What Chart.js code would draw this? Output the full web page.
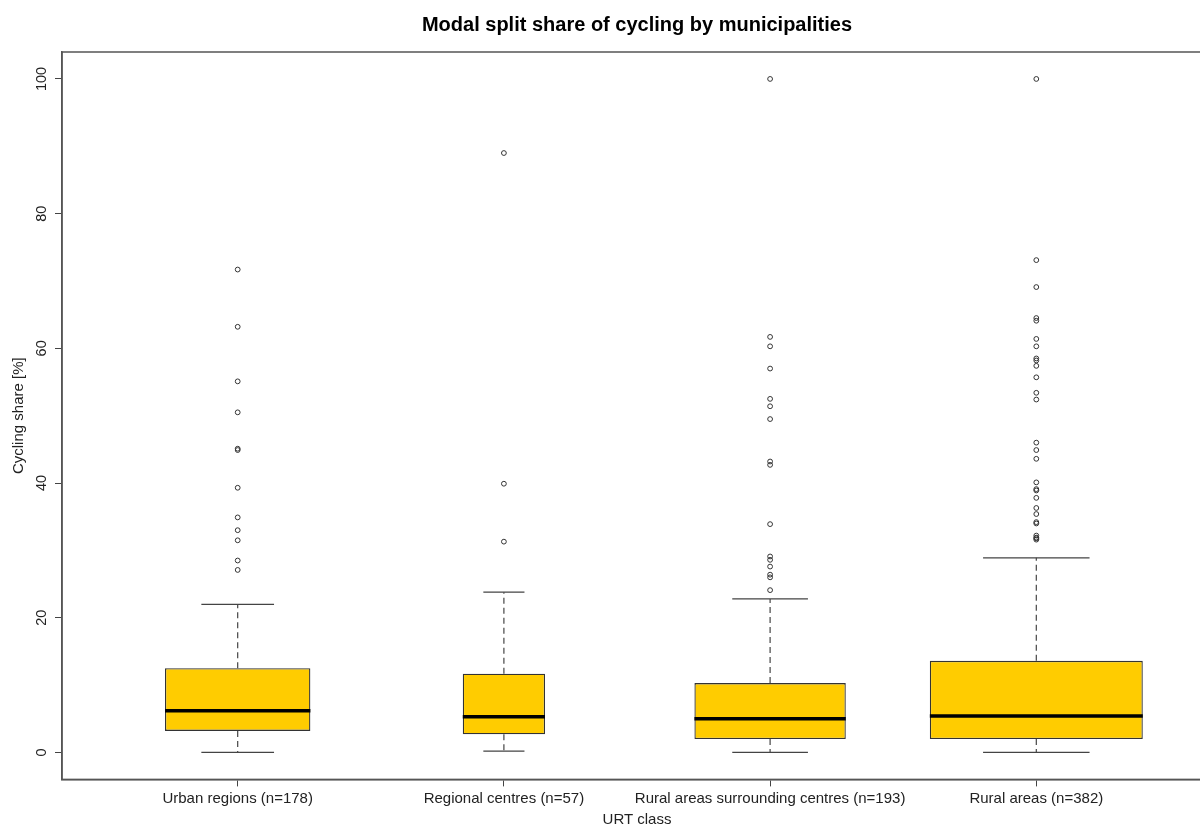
<!DOCTYPE html>
<html lang="en">
<head>
  <meta charset="UTF-8" />
  <title>Modal split share of cycling by municipalities</title>
  <script src="https://cdn.jsdelivr.net/npm/chart.js@4.4.1/dist/chart.umd.min.js"></script>
  <style>
    html,body{margin:0;padding:0;background:#fff;overflow:hidden;}
    /* plot box runs a little past the right edge, like the R export */
    .wrap{position:relative;width:1217px;height:826px;}
  </style>
</head>
<body>
  <div class="wrap"><canvas id="boxChart" width="1217" height="826"></canvas></div>

  <script>
    /* ---------- data ---------- */
    const chartTitle   = "Modal split share of cycling by municipalities";
    const categories   = ["Urban regions", "Regional centres", "Rural areas surrounding centres", "Rural areas"];
    const groupSizes   = [178, 57, 193, 382];
    const lowerWhisker = [0, 0.2, 0, 0];
    const lowerQuart   = [3.2, 2.7, 2.0, 2.0];
    const medians      = [6.2, 5.3, 5.0, 5.4];
    const upperQuart   = [12.5, 11.7, 10.3, 13.6];
    const upperWhisker = [22.0, 23.8, 22.8, 28.9];
    const outliers = [
      [71.7, 63.2, 55.1, 50.5, 45.1, 44.9, 39.3, 34.9, 33.0, 31.5, 28.5, 27.1],
      [89.0, 39.9, 31.3],
      [100, 61.7, 60.3, 57.0, 52.5, 51.4, 49.5, 43.2, 42.7, 33.9, 29.1, 28.6, 27.6, 26.4, 26.0, 24.1],
      [100, 73.1, 69.1, 64.5, 64.1, 61.4, 60.3, 58.5, 58.2, 57.4, 55.7, 53.4, 52.4, 46.0, 44.9, 43.6,
       40.1, 39.1, 38.9, 37.8, 36.3, 35.4, 34.2, 34.0, 32.2, 31.9, 31.8, 31.6]
    ];
    const yTicks = [0, 20, 40, 60, 80, 100];

    /* ---------- derived: R style varwidth boxes ---------- */
    const FONT = '"Liberation Sans", Arial, sans-serif';
    const LINE = "#444";
    const xPos = categories.map((_, i) => i + 1);
    const maxRoot = Math.sqrt(Math.max(...groupSizes));
    const boxWidth = groupSizes.map(n => 0.8 * Math.sqrt(n) / maxRoot);   // in x units
    const tickLabels = categories.map((c, i) => `${c} (n=${groupSizes[i]})`);

    const boxSets = categories.map((c, i) => ({
      type: "bar", label: c, grouped: false, order: 3,
      data: [{ x: xPos[i], y: [lowerQuart[i], upperQuart[i]] }],
      backgroundColor: "#FFCC00", borderColor: "#333", borderWidth: 1.3, borderSkipped: false,
      barPercentage: boxWidth[i], categoryPercentage: 1
    }));

    const whiskers = [], caps = [], medLines = [];
    xPos.forEach((x, i) => {
      const half = boxWidth[i] / 2, capHalf = boxWidth[i] / 4;
      whiskers.push({ x, y: upperQuart[i] }, { x, y: upperWhisker[i] }, { x, y: null },
                    { x, y: lowerQuart[i] }, { x, y: lowerWhisker[i] }, { x, y: null });
      caps.push({ x: x - capHalf, y: upperWhisker[i] }, { x: x + capHalf, y: upperWhisker[i] }, { x, y: null },
                { x: x - capHalf, y: lowerWhisker[i] }, { x: x + capHalf, y: lowerWhisker[i] }, { x, y: null });
      medLines.push({ x: x - half, y: medians[i] }, { x: x + half, y: medians[i] }, { x, y: null });
    });
    const outlierPts = outliers.flatMap((arr, i) => arr.map(v => ({ x: xPos[i], y: v })));

    const lineSet = (label, data, extra) => Object.assign({
      type: "scatter", label, data, showLine: true, spanGaps: false,
      pointRadius: 0, borderColor: LINE, borderWidth: 1.2
    }, extra);

    /* ---------- plugins: title text + plot frame ---------- */
    const rTitle = {
      id: "rTitle",
      afterDraw(chart) {
        const { ctx, chartArea: a } = chart;
        ctx.save();
        ctx.font = `bold 20px ${FONT}`;
        ctx.fillStyle = "#000";
        ctx.textAlign = "center";
        ctx.textBaseline = "middle";
        ctx.fillText(chartTitle, (a.left + a.right) / 2, 25);
        ctx.restore();
      }
    };
    const frame = {
      id: "frame",
      afterDatasetsDraw(chart) {
        const { ctx, chartArea: a } = chart;
        ctx.save();
        ctx.strokeStyle = "#555";
        ctx.lineWidth = 1.5;
        ctx.strokeRect(a.left, a.top, a.right - a.left, a.bottom - a.top);
        ctx.restore();
      }
    };

    /* ---------- chart ---------- */
    new Chart(document.getElementById("boxChart"), {
      type: "bar",
      data: {
        datasets: [
          ...boxSets,
          lineSet("whiskers", whiskers, { borderDash: [6, 4], order: 2 }),
          lineSet("caps", caps, { order: 2 }),
          lineSet("median", medLines, { borderColor: "#000", borderWidth: 3.5, order: 0 }),
          { type: "scatter", label: "outliers", data: outlierPts, order: 1,
            pointStyle: "circle", pointRadius: 2.4, pointBorderWidth: 1,
            pointBorderColor: "#333", pointBackgroundColor: "rgba(0,0,0,0)" }
        ]
      },
      options: {
        responsive: false,
        animation: false,
        layout: { padding: { top: 52, left: 0, right: 0, bottom: 0 } },
        plugins: { legend: { display: false }, tooltip: { enabled: false }, title: { display: false } },
        scales: {
          x: {
            type: "linear", min: 0.34, max: 4.66, offset: false,
            afterBuildTicks: s => { s.ticks = xPos.map(v => ({ value: v })); },
            afterFit: s => { s.height = 46.6; },
            grid: { display: true, drawOnChartArea: false, offset: false, tickLength: 7, color: LINE },
            border: { display: true, color: "#555", width: 1.5 },
            ticks: {
              autoSkip: false, maxRotation: 0, padding: 3, color: "#222",
              font: { family: FONT, size: 15 },
              callback: v => tickLabels[xPos.indexOf(v)] || ""
            },
            title: { display: true, text: "URT class", color: "#222", padding: { top: 0, bottom: -3 },
                     font: { family: FONT, size: 15 } }
          },
          y: {
            type: "linear", min: -4, max: 104,
            afterBuildTicks: s => { s.ticks = yTicks.map(v => ({ value: v })); },
            afterFit: s => { s.width = 62; },
            grid: { display: true, drawOnChartArea: false, tickLength: 7, color: LINE },
            border: { display: true, color: "#555", width: 1.5 },
            ticks: {
              minRotation: 90, maxRotation: 90, crossAlign: "center", padding: 1, color: "#222",
              font: { family: FONT, size: 14.5 }
            },
            title: { display: true, text: "Cycling share [%]", color: "#222", padding: { top: 10, bottom: 0 },
                     font: { family: FONT, size: 15 } }
          }
        }
      },
      plugins: [rTitle, frame]
    });
  </script>
</body>
</html>
